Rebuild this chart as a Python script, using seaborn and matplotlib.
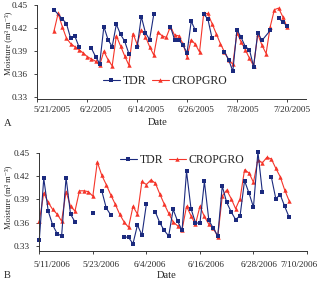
import numpy as np
import pandas as pd
import matplotlib
matplotlib.use('Agg')
import matplotlib.pyplot as plt
from matplotlib.lines import Line2D
import seaborn as sns

nan = np.nan

# panel A (2005) - days counted from 5/21/2005, nan = break in the line
start_a = '2005-05-21'
tdr_a_day = [4, 6, 7, 8, 9, 10, 11,
             13, 14, 15, 16, 17, 18, 19, 20, 21, 22, 23,
             24, 25, 26, 27, 28, 29,
             32, 33, 34, 35, 36, 37, 38, 39,
             40, 41, 42, 43,
             45, 46, 47, 48, 49, 50, 51, 52, 53, 54, 56, 57,
             58, 59, 60]
tdr_a_val = [0.444, 0.432, 0.426, 0.407, 0.410, 0.396, nan,
             0.394, 0.383, 0.374, 0.422, 0.405, 0.396, 0.425, 0.412, 0.403, 0.387, nan,
             0.395, 0.435, 0.414, 0.405, 0.438, nan,
             0.422, 0.405, 0.405, 0.398, 0.388, 0.429, 0.417, nan,
             0.438, 0.432, 0.407, nan,
             0.389, 0.379, 0.364, 0.418, 0.408, 0.396, 0.392, 0.370, 0.414, 0.404, 0.417, nan,
             0.433, 0.428, 0.423]
crop_a_day = list(range(4, 61))
crop_a_val = [0.416, 0.439, 0.422, 0.407, 0.400, 0.396, 0.392, 0.388, 0.383, 0.380,
              0.377, 0.372, 0.390, 0.379, 0.371, 0.410, 0.397, 0.384, 0.372, 0.413,
              0.399, 0.418, 0.409, 0.396, 0.385, 0.415, 0.410, 0.408, 0.422, 0.411,
              0.410, 0.400, 0.383, 0.405, 0.399, 0.389, 0.439, 0.439, 0.426, 0.413,
              0.400, 0.389, 0.379, 0.373, 0.414, 0.402, 0.392, 0.381, 0.371, 0.412,
              0.398, 0.387, 0.422, 0.444, 0.446, 0.435, 0.422]
ticks_a = ['5/21/2005', '6/2/2005', '6/14/2005', '6/26/2005', '7/8/2005', '7/20/2005']

# panel B (2006) - days counted from 5/11/2006
start_b = '2006-05-11'
tdr_b_day = [0, 1, 2, 3, 4, 5, 6, 7, 8, 9,
             12, 13,
             14, 15, 16, 17,
             19, 20, 21, 22, 23, 24, 25,
             26, 27, 28, 29, 30, 31, 32, 33, 34, 35, 36, 37, 38, 39, 40,
             41, 42, 43, 44, 45, 46, 47, 48, 49, 50, 51,
             52, 53, 54, 55, 56]
tdr_b_val = [0.338, 0.417, 0.375, 0.357, 0.346, 0.343, 0.418, 0.371, 0.361, nan,
             0.372, nan,
             0.401, 0.379, 0.370, nan,
             0.342, 0.341, 0.333, 0.357, 0.344, 0.384, nan,
             0.374, 0.360, 0.350, 0.343, 0.377, 0.362, 0.350, 0.426, 0.378, 0.360, 0.359,
             0.413, 0.363, 0.353, 0.343,
             0.407, 0.386, 0.374, 0.364, 0.369, 0.414, 0.398, 0.380, 0.451, 0.399, nan,
             0.419, 0.391, 0.396, 0.381, 0.367]
crop_b_day = list(range(0, 57))
crop_b_val = [0.362, 0.398, 0.386, 0.377, 0.371, 0.362, 0.400, 0.381, 0.375, 0.401,
              0.401, 0.400, 0.394, 0.438, 0.421, 0.409, 0.396, 0.384, 0.371, 0.361,
              0.354, 0.381, 0.371, 0.413, 0.409, 0.415, 0.411, 0.397, 0.384, 0.372,
              0.361, 0.356, 0.351, 0.381, 0.369, 0.358, 0.381, 0.368, 0.358, 0.353,
              0.342, 0.394, 0.402, 0.391, 0.378, 0.391, 0.428, 0.424, 0.412, 0.441,
              0.437, 0.444, 0.442, 0.430, 0.419, 0.402, 0.388]
ticks_b = ['5/11/2006', '5/23/2006', '6/4/2006', '6/16/2006', '6/28/2006', '7/10/2006']

yticks = [0.33, 0.36, 0.39, 0.42, 0.45]
blue = '#1b2a7e'
red = '#f5352a'


def make_frame(start, days, vals):
    df = pd.DataFrame({'date': pd.Timestamp(start) + pd.to_timedelta(days, unit='D'),
                       'val': vals})
    df['seg'] = df['val'].isna().cumsum()
    return df.dropna()


sns.set_style('ticks')
plt.rcParams['font.family'] = ['Liberation Serif', 'DejaVu Serif']

fig = plt.figure(figsize=(3.2, 2.82), dpi=100)
ax_a = fig.add_axes([0.1166, 0.6489, 0.8397, 0.3333])
ax_b = fig.add_axes([0.1228, 0.1099, 0.8366, 0.3486])

# (axes, start, tdr days/vals, crop days/vals, tick labels, x span in days, ylim,
#  legend center, panel letter y px, label x shifts in px, tick label drop in pt,
#  ylabel coords, xlabel coords)
panels = [
    (ax_a, start_a, tdr_a_day, tdr_a_val, crop_a_day, crop_a_val, ticks_a,
     64.6, (0.328, 0.45), (0.476, 0.19), 'A', 124, [15, 9, 9, 9, 6, 5], 4.8,
     (-0.094, 0.596), (0.449, -0.2)),
    (ax_b, start_b, tdr_b_day, tdr_b_val, crop_b_day, crop_b_val, ticks_b,
     60, (0.3236, 0.45), (0.534, 0.925), 'B', 276, [13, 8, 3, 6, 6, -8], 7.0,
     (-0.102, 0.549), (0.477, -0.2)),
]

for (ax, start, td, tv, cd, cv, ticks, xmax, ylim, legpos, letter, ly,
     shifts, drop, ylab_pos, xlab_pos) in panels:
    df_tdr = make_frame(start, td, tv)
    df_crop = make_frame(start, cd, cv)
    sns.lineplot(data=df_crop, x='date', y='val', units='seg', estimator=None,
                 color=red, marker='^', markersize=3.2, markeredgewidth=0,
                 linewidth=0.8, ax=ax, clip_on=False)
    sns.lineplot(data=df_tdr, x='date', y='val', units='seg', estimator=None,
                 color=blue, marker='s', markersize=2.6, markeredgewidth=0,
                 linewidth=0.8, ax=ax, clip_on=False)

    t0 = pd.Timestamp(start)
    ax.set_xlim(t0, t0 + pd.Timedelta(days=xmax))
    ax.set_ylim(*ylim)
    tick_dates = pd.to_datetime(ticks, format='%m/%d/%Y')
    ax.set_xticks(tick_dates)
    ax.set_xticklabels([''] * len(ticks))
    # tick labels sit a little right of their marks, as in the source figure
    for d, lab, sh in zip(tick_dates, ticks, shifts):
        ax.annotate(lab, xy=(d, 0), xycoords=('data', 'axes fraction'),
                    xytext=(sh * 0.72, -drop), textcoords='offset points',
                    ha='center', va='top', fontsize=6.6, annotation_clip=False)
    ax.set_yticks(yticks)
    ax.set_yticklabels([f'{v:.2f}' for v in yticks])
    ax.tick_params(axis='x', length=2.5, width=0.6)
    ax.tick_params(axis='y', length=2.5, width=0.6, pad=4.5, labelsize=6.6)
    sns.despine(ax=ax)
    for s in ['left', 'bottom']:
        ax.spines[s].set_linewidth(0.7)
        ax.spines[s].set_color('#333333')

    ax.set_ylabel('Moisture (m³ m⁻³)', fontsize=6.1)
    ax.yaxis.set_label_coords(*ylab_pos)
    ax.set_xlabel('Date', fontsize=7.6)
    ax.xaxis.set_label_coords(*xlab_pos)

    handles = [Line2D([], [], color=blue, marker='s', markersize=2.6, markeredgewidth=0, linewidth=0.8),
               Line2D([], [], color=red, marker='^', markersize=3.2, markeredgewidth=0, linewidth=0.8)]
    ax.legend(handles, ['TDR', 'CROPGRO'], ncol=2, frameon=False, loc='center',
              bbox_to_anchor=legpos, fontsize=8.5, handlelength=1.4,
              handletextpad=0.25, columnspacing=0.5, borderaxespad=0)

    fig.text(4 / 320, 1 - ly / 282, letter, fontsize=7.6, va='center', ha='left')

fig.savefig('out.png', dpi=100)
